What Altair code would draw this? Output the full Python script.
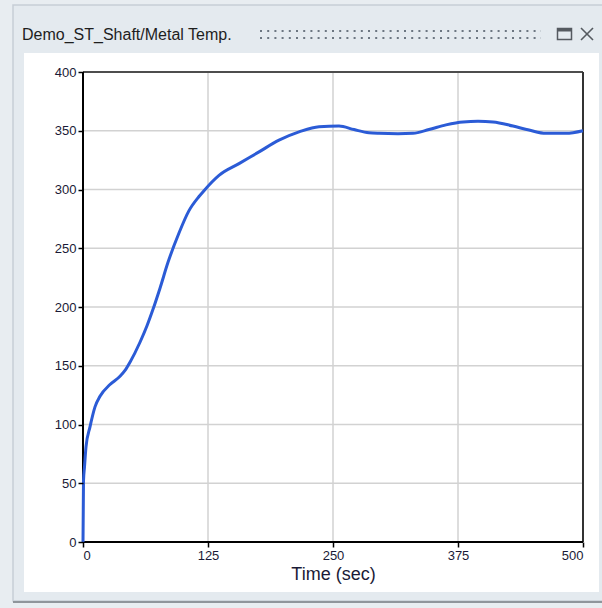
import altair as alt
import pandas as pd

# ---- data ----
time_sec = [0, 0.5, 1.5, 3, 7, 12, 17, 27, 37, 42, 47, 57, 64, 70, 77, 85, 96, 106,
            116, 121, 136, 156, 176, 196, 216, 236, 256, 271, 286, 296, 315, 330,
            346, 363, 380, 395, 410, 430, 446, 463, 483, 500]
metal_temp = [0, 52, 64, 81, 98, 115, 124, 134, 141, 146, 153, 170, 184, 198, 216,
              238, 263, 282, 294, 299, 312, 322, 332, 342, 349, 353.5, 354, 351,
              348.3, 347.8, 347.5, 347.8, 351, 355, 357.5, 358, 357.5, 354, 350.6,
              347.8, 347.8, 350]
x_ticks = [0, 125, 250, 375, 500]
y_ticks = [0, 50, 100, 150, 200, 250, 300, 350, 400]
window_title = "Demo_ST_Shaft/Metal Temp."
x_title = "Time (sec)"

# ---- layout ----
OX, OY = 83, 72          # plot origin in the page
W, H = 500, 470          # plot area
FONT = "Liberation Sans"
TXT = "#1a1a36"

df = pd.DataFrame({"t": time_sec, "v": metal_temp})
xt = pd.DataFrame({"t": x_ticks})
yt = pd.DataFrame({"v": y_ticks})
one = pd.DataFrame({"k": [0]})


def px(x):
    return x - OX


def py(y):
    return y - OY


def box(x1, x2, y1, y2, **kw):
    return alt.Chart(one).mark_rect(**kw).encode(
        x=alt.value(px(x1)), x2=alt.value(px(x2)),
        y=alt.value(py(y1)), y2=alt.value(py(y2)))


def seg(x1, y1, x2, y2, **kw):
    return alt.Chart(one).mark_rule(**kw).encode(
        x=alt.value(px(x1)), x2=alt.value(px(x2)),
        y=alt.value(py(y1)), y2=alt.value(py(y2)))


xs = alt.Scale(domain=[0, 500], nice=False)
ys = alt.Scale(domain=[0, 400], nice=False)

# window chrome
outer = box(13, 640, 5, 601, fill="#e4eaef", stroke="#c6ced6", strokeWidth=1.5)
shadow = seg(13, 602, 640, 602, color="#8f959b", strokeWidth=2)
panel = box(24, 599, 53, 592, fill="#ffffff")
title = alt.Chart(one).mark_text(
    align="left", baseline="alphabetic", font=FONT, fontSize=16, color="#1e1e1e"
).encode(x=alt.value(px(22)), y=alt.value(py(40)), text=alt.value(window_title))
grip1 = seg(260, 31, 541, 31, color="#6c7681", strokeWidth=2.2, strokeDash=[2, 5.2])
grip2 = seg(260, 38, 541, 38, color="#6c7681", strokeWidth=2.2, strokeDash=[2, 5.2])
max_box = box(557.5, 571.5, 28.5, 39.5, fill="transparent", stroke="#555a60", strokeWidth=1.5)
max_bar = seg(557.5, 30, 571.5, 30, color="#555a60", strokeWidth=3)
x1 = seg(581, 28, 593, 40, color="#555a60", strokeWidth=1.6)
x2 = seg(581, 40, 593, 28, color="#555a60", strokeWidth=1.6)

# grid
vgrid = alt.Chart(xt).mark_rule(color="#d2d2d2", strokeWidth=1.5).encode(
    x=alt.X("t:Q", scale=xs), y=alt.value(0), y2=alt.value(H))
hgrid = alt.Chart(yt).mark_rule(color="#d2d2d2", strokeWidth=1.5).encode(
    y=alt.Y("v:Q", scale=ys), x=alt.value(0), x2=alt.value(W))

# frame
top_f = seg(OX, OY, OX + W, OY, color="#4d4d4d", strokeWidth=2)
right_f = seg(OX + W, OY, OX + W, OY + H, color="#333333", strokeWidth=2)
left_f = seg(OX, OY, OX, OY + H, color="#000000", strokeWidth=2)
bottom_f = seg(OX, OY + H, OX + W, OY + H, color="#000000", strokeWidth=2)

line = alt.Chart(df).mark_line(
    color="#2b5bd6", strokeWidth=3, interpolate="monotone"
).encode(
    x=alt.X("t:Q", scale=xs, axis=alt.Axis(
        values=x_ticks, title=x_title, grid=False, domain=False, zindex=1,
        tickSize=5, tickWidth=1.5, tickColor="#000000",
        labelFont=FONT, labelFontSize=13, labelColor=TXT, labelPadding=2,
        titleFont=FONT, titleFontSize=18, titleFontWeight="normal",
        titleColor=TXT, titlePadding=3)),
    y=alt.Y("v:Q", scale=ys, axis=alt.Axis(
        values=y_ticks, title=None, grid=False, domain=False, zindex=1,
        tickSize=5, tickWidth=1.5, tickColor="#000000",
        labelFont=FONT, labelFontSize=13, labelColor=TXT, labelPadding=2)),
)

chart = alt.layer(
    outer, shadow, panel, title, grip1, grip2, max_box, max_bar, x1, x2,
    vgrid, hgrid, top_f, right_f, left_f, bottom_f, line
).properties(
    width=W, height=H,
    padding={"left": OX, "top": OY, "right": 602 - OX - W, "bottom": 608 - OY - H},
    autosize=alt.AutoSizeParams(type="none"),
).configure(background="#e8edf1").configure_view(stroke="transparent")

chart.save("out.html", embed_options={"renderer": "svg", "actions": False})
